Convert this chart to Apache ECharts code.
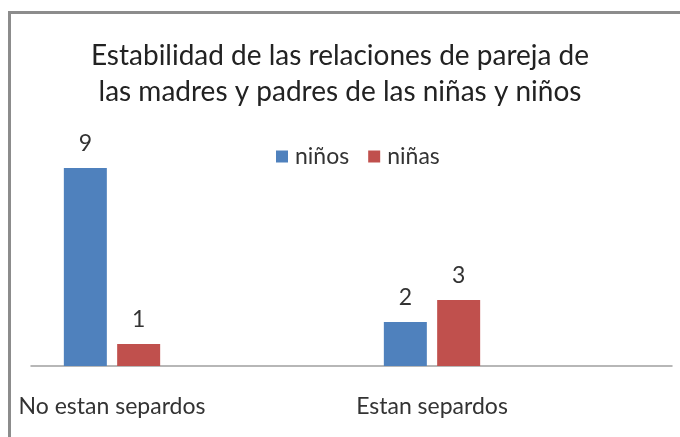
<!DOCTYPE html>
<html>
<head>
<meta charset="utf-8">
<script src="https://cdn.jsdelivr.net/npm/echarts@6/dist/echarts.min.js"></script>
<style>
  html, body { margin: 0; padding: 0; background: #fff; }
  #wrap { position: relative; width: 680px; height: 437px; overflow: hidden; }
  #frame { position: absolute; left: 8px; top: 11px; width: 720px; height: 480px; border: 3px solid #8c8c8c; box-sizing: border-box; }
  #chart { position: absolute; left: 0; top: 0; width: 680px; height: 437px; }
</style>
</head>
<body>
<div id="wrap">
  <div id="frame"></div>
  <div id="chart"></div>
</div>
<script>
const categories = ['No estan separdos', 'Estan separdos'];
const seriesNames = ['niños', 'niñas'];
const ninos = [9, 2];
const ninas = [1, 3];

const font = 'Lato, "Open Sans", sans-serif';
const textColor = '#333';

const mychart = echarts.init(document.getElementById('chart'));
const option = {
    animation: false,
    textStyle: { fontFamily: font },
    title: {
        text: 'Estabilidad de las relaciones de pareja de\nlas madres y padres de las niñas y niños',
        left: 'center',
        top: 33,
        textStyle: { fontFamily: font, fontSize: 28, fontWeight: 'normal', color: '#222', lineHeight: 36 }
    },
    legend: {
        data: seriesNames,
        left: 271,
        top: 140,
        icon: 'rect',
        itemWidth: 12,
        itemHeight: 12,
        itemGap: 19,
        textStyle: { fontFamily: font, fontSize: 23, color: textColor, padding: [0, 0, 0, 2] }
    },
    grid: [
        { left: 112, right: 248, top: 146, bottom: 71 },
        { left: 31, right: 8, top: 146, bottom: 71 }
    ],
    xAxis: [
        {
            type: 'category',
            gridIndex: 0,
            data: categories,
            boundaryGap: false,
            axisLine: { show: false },
            axisTick: { show: false },
            axisLabel: { fontFamily: font, fontSize: 23, color: textColor, margin: 29 }
        },
        {
            type: 'value',
            gridIndex: 1,
            min: 0,
            max: 1,
            axisLine: { show: true, lineStyle: { color: '#a0a0a0', width: 1.5 } },
            axisTick: { show: false },
            axisLabel: { show: false },
            splitLine: { show: false }
        }
    ],
    yAxis: [
        { type: 'value', gridIndex: 0, min: 0, max: 10, show: false },
        { type: 'value', gridIndex: 1, min: 0, max: 10, show: false }
    ],
    series: [
        {
            name: seriesNames[0],
            type: 'bar',
            data: ninos,
            barWidth: 43,
            barGap: '24%',
            itemStyle: { color: '#4F81BD' },
            label: { show: true, position: 'top', distance: 13, fontFamily: font, fontSize: 23, color: textColor }
        },
        {
            name: seriesNames[1],
            type: 'bar',
            data: ninas,
            barWidth: 43,
            itemStyle: { color: '#C0504D' },
            label: { show: true, position: 'top', distance: 13, fontFamily: font, fontSize: 23, color: textColor }
        }
    ]
};
mychart.setOption(option);
</script>
</body>
</html>
